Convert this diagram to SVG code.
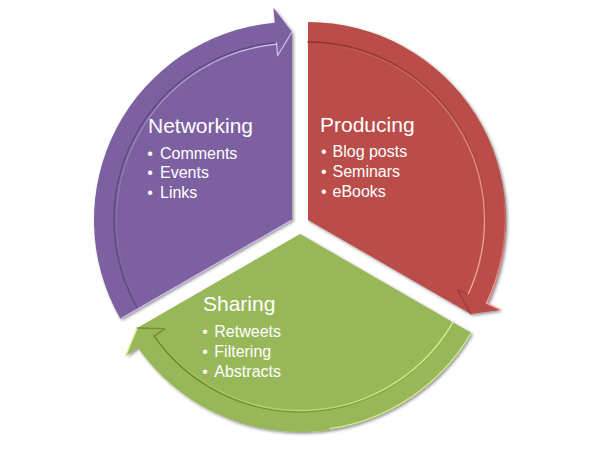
<svg xmlns="http://www.w3.org/2000/svg" width="600" height="453" viewBox="0 0 600 453">
  <defs>
    <filter id="shadow" x="-10%" y="-10%" width="120%" height="120%">
      <feDropShadow dx="1.5" dy="1.5" stdDeviation="1.5" flood-color="#000" flood-opacity="0.45"/>
    </filter>
    <linearGradient id="pLight" gradientUnits="userSpaceOnUse" x1="140" y1="300" x2="280" y2="40">
      <stop offset="0" stop-color="#C9B6E6" stop-opacity="0"/>
      <stop offset="0.6" stop-color="#C9B6E6" stop-opacity="0.5"/>
      <stop offset="1" stop-color="#D6C6F0" stop-opacity="1"/>
    </linearGradient>
    <linearGradient id="rDark" gradientUnits="userSpaceOnUse" x1="320" y1="40" x2="480" y2="290">
      <stop offset="0" stop-color="#8A302D" stop-opacity="0.9"/>
      <stop offset="0.55" stop-color="#8A302D" stop-opacity="0.4"/>
      <stop offset="1" stop-color="#8A302D" stop-opacity="0"/>
    </linearGradient>
    <linearGradient id="rLight" gradientUnits="userSpaceOnUse" x1="320" y1="40" x2="480" y2="290">
      <stop offset="0" stop-color="#F3A19D" stop-opacity="0"/>
      <stop offset="0.5" stop-color="#F3A19D" stop-opacity="0.6"/>
      <stop offset="1" stop-color="#F7AAA6" stop-opacity="1"/>
    </linearGradient>
    <linearGradient id="rEdge" gradientUnits="userSpaceOnUse" x1="502" y1="186" x2="487" y2="303">
      <stop offset="0" stop-color="#F3A19D" stop-opacity="0"/>
      <stop offset="1" stop-color="#F7AAA6" stop-opacity="1"/>
    </linearGradient>
    <linearGradient id="gDark" gradientUnits="userSpaceOnUse" x1="150" y1="336" x2="455" y2="323">
      <stop offset="0" stop-color="#5F7F2A" stop-opacity="1"/>
      <stop offset="0.6" stop-color="#5F7F2A" stop-opacity="0.5"/>
      <stop offset="1" stop-color="#5F7F2A" stop-opacity="0"/>
    </linearGradient>
    <linearGradient id="gLight" gradientUnits="userSpaceOnUse" x1="150" y1="336" x2="455" y2="323">
      <stop offset="0" stop-color="#DDF59A" stop-opacity="0"/>
      <stop offset="0.5" stop-color="#DDF59A" stop-opacity="0.5"/>
      <stop offset="1" stop-color="#E3F7A4" stop-opacity="1"/>
    </linearGradient>
  </defs>
  <style>
    .title { font-family: "Liberation Sans", Arial, sans-serif; font-size: 21px; fill: #ffffff; }
    .item { font-family: "Liberation Sans", Arial, sans-serif; font-size: 16px; fill: #ffffff; }
    .edge { fill: none; stroke-width: 1.3; stroke-linecap: round; stroke-linejoin: round; }
  </style>

  <g id="networking">
    <path d="M292,220 L120.53,319 A198,198 0 0 1 274.74,22.75 L273.44,7.81 L292,32 Z" fill="#7D609F" filter="url(#shadow)"/>
    <path class="edge" d="M137.85,309 A178,178 0 0 1 276.49,42.68" stroke="#5A4279" stroke-opacity="0.85"/>
    <path class="edge" d="M139.5,307.2 A176.5,176.5 0 0 1 276.6,44.2" stroke="url(#pLight)"/>
    <path class="edge" d="M292,32 L277.62,55.63 L276.49,42.68" stroke="#CDB9EC"/>
    <path class="edge" d="M291,220.6 L121.5,318.4" stroke="#CDB9EC" stroke-width="1.6"/>
    <text class="title" x="148" y="132.5">Networking</text>
    <text class="item" x="147.2" y="158.5">•</text><text class="item" x="160" y="158.5">Comments</text>
    <text class="item" x="147.2" y="178.3">•</text><text class="item" x="160" y="178.3">Events</text>
    <text class="item" x="147.2" y="198.3">•</text><text class="item" x="160" y="198.3">Links</text>
  </g>

  <g id="producing">
    <path d="M308,220 L308,22 A198,198 0 0 1 487.45,303.68 L501.04,310.02 L470.81,314 Z" fill="#BA4E4A" filter="url(#shadow)"/>
    <path class="edge" d="M308,42 A178,178 0 0 1 469.32,295.23" stroke="url(#rDark)"/>
    <path class="edge" d="M308,43.5 A176.5,176.5 0 0 1 467.96,294.6" stroke="url(#rLight)"/>
    <path class="edge" d="M502,185.8 A197,197 0 0 1 486.54,303.26" stroke="url(#rEdge)" stroke-width="1.6"/>
    <path class="edge" d="M469.32,295.23 L457.54,289.73 L470.81,314" stroke="#8A302D" stroke-opacity="0.6"/>
    <path class="edge" d="M486.5,303.2 L500,309.6" stroke="#F3A19D"/>
    <text class="title" x="320" y="131.7">Producing</text>
    <text class="item" x="321" y="156.7">•</text><text class="item" x="332.5" y="156.7">Blog posts</text>
    <text class="item" x="321" y="176.7">•</text><text class="item" x="332.5" y="176.7">Seminars</text>
    <text class="item" x="321" y="197">•</text><text class="item" x="332.5" y="197">eBooks</text>
  </g>

  <g id="sharing">
    <path d="M300,234 L471.47,333 A198,198 0 0 1 137.81,347.57 L125.52,356.17 L137.19,328 Z" fill="#98B759" filter="url(#shadow)"/>
    <path class="edge" d="M454.15,323 A178,178 0 0 1 154.19,336.1" stroke="url(#gDark)"/>
    <path class="edge" d="M452.9,322.2 A176.5,176.5 0 0 1 155.4,335.2" stroke="url(#gLight)"/>
    <path class="edge" d="M470.6,334 A197,197 0 0 1 330,428.6" stroke="#DDF59A" stroke-opacity="0.9" stroke-width="1.6"/>
    <path class="edge" d="M125.52,356.17 L137.19,328" stroke="#DDF59A"/>
    <path class="edge" d="M137.19,328 L164.84,328.64 L154.19,336.1" stroke="#5F7F2A" stroke-opacity="0.7"/>
    <text class="title" x="203" y="310.7">Sharing</text>
    <text class="item" x="202.2" y="336.7">•</text><text class="item" x="214.3" y="336.7">Retweets</text>
    <text class="item" x="202.2" y="356.7">•</text><text class="item" x="214.3" y="356.7">Filtering</text>
    <text class="item" x="202.2" y="377">•</text><text class="item" x="214.3" y="377">Abstracts</text>
  </g>
</svg>
